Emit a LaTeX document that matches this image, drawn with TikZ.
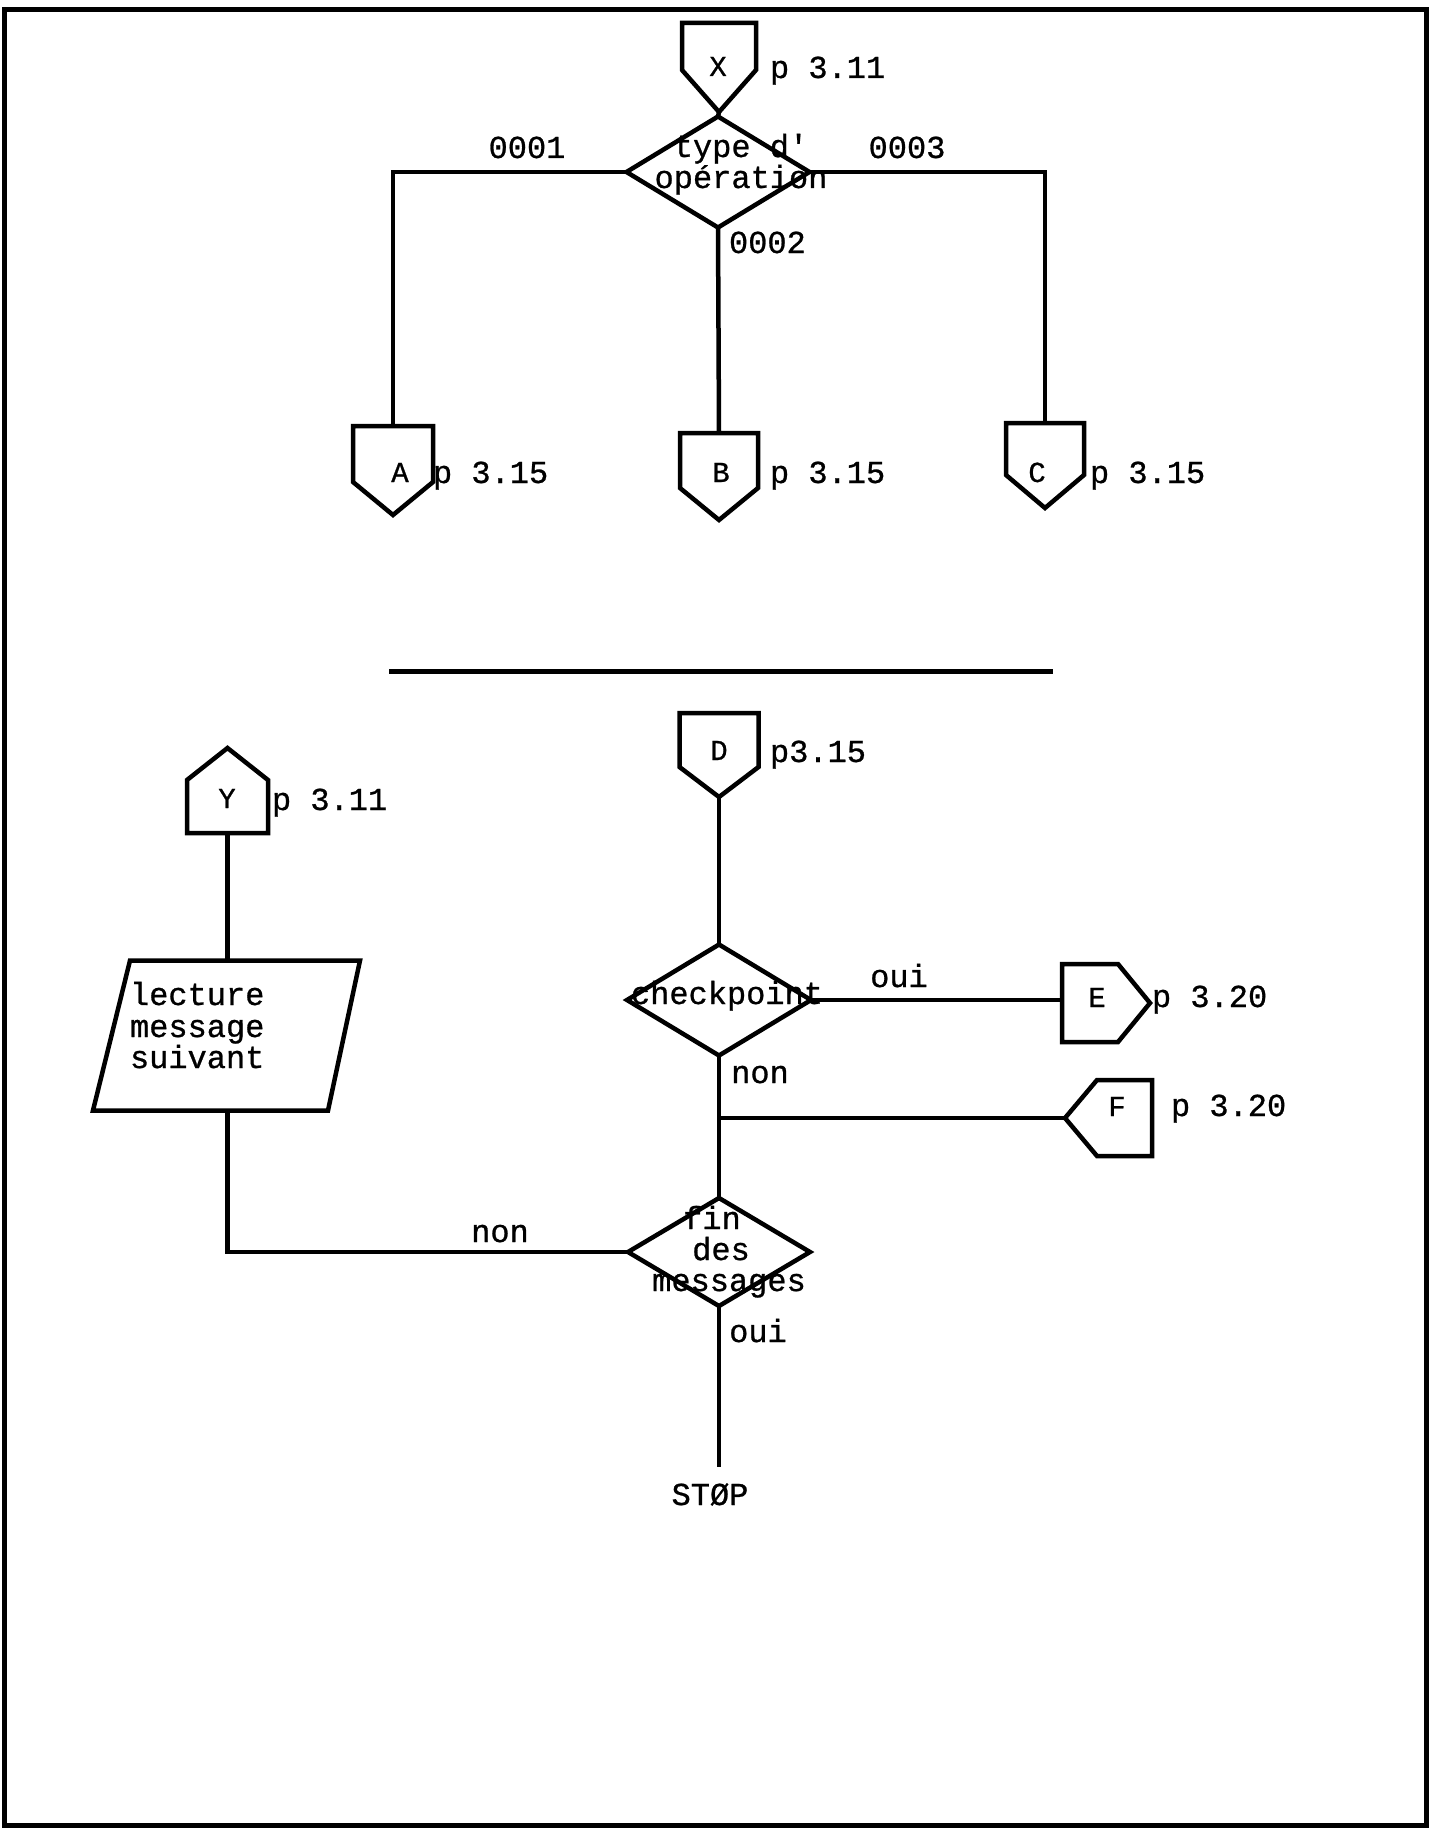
\documentclass[tikz,border=0pt]{standalone}
\usepackage{fontspec}
\setmonofont{Liberation Mono}[FakeBold=0.8]
\usetikzlibrary{shapes.geometric,calc}
\begin{document}
\begin{tikzpicture}[x=1pt,y=-1pt,
  ln/.style={line width=4.5pt, line join=miter, black},
  connbody/.style={inner sep=0pt, outer sep=0pt},
  dia/.style={diamond, draw, line width=4.5pt, inner sep=0pt, outer sep=0pt},
  txt/.style={font=\ttfamily\fontsize{32}{32}\selectfont, inner sep=0pt, outer sep=0pt, anchor=base},
  lbl/.style={txt, anchor=base west},
  conlet/.style={font=\ttfamily\fontsize{29}{29}\selectfont, inner sep=0pt, outer sep=0pt, anchor=base},
]
\useasboundingbox (0,0) rectangle (1430,1830);
\fill[white] (0,0) rectangle (1430,1830);
% page frame
\draw[line width=5pt] (4,10) rectangle (1426,1825);

% ===== top part =====
\node[connbody, minimum width=74pt, minimum height=47pt] (X) at (719,46.5) {};
\coordinate (Xtip) at ($(X.south)+(0,42)$);
\draw[ln] (X.north west) -- (X.north east) -- (X.south east) -- (Xtip) -- (X.south west) -- cycle;
\node[conlet] (Xl) at (718,76) {X};
\node[lbl] (Xp) at (770,78) {p 3.11};

\node[dia, minimum width=183pt, minimum height=111pt] (T) at (718,172) {};
\draw[ln] (Xtip) -- (T.north);
\node[txt] (T1) at (741,157) {type d'};
\node[txt] (T2) at (741,188) {opération};

% A
\node[connbody, minimum width=80pt, minimum height=56pt] (A) at (393,454) {};
\coordinate (Atip) at ($(A.south)+(0,33)$);
\draw[ln] (A.north west) -- (A.north east) -- (A.south east) -- (Atip) -- (A.south west) -- cycle;
\node[conlet] (Al) at (400,482) {A};
\node[lbl] (Ap) at (433,483) {p 3.15};
% B
\node[connbody, minimum width=78pt, minimum height=55pt] (B) at (719,460.5) {};
\coordinate (Btip) at ($(B.south)+(0,32)$);
\draw[ln] (B.north west) -- (B.north east) -- (B.south east) -- (Btip) -- (B.south west) -- cycle;
\node[conlet] (Bl) at (721,482) {B};
\node[lbl] (Bp) at (770,483) {p 3.15};
% C
\node[connbody, minimum width=78pt, minimum height=52pt] (C) at (1045,449) {};
\coordinate (Ctip) at ($(C.south)+(0,33)$);
\draw[ln] (C.north west) -- (C.north east) -- (C.south east) -- (Ctip) -- (C.south west) -- cycle;
\node[conlet] (Cl) at (1037,482) {C};
\node[lbl] (Cp) at (1090,483) {p 3.15};

\draw[ln] (T.west) -| (A.north);
\draw[ln] (T.east) -| (C.north);
\draw[ln] (T.south) -- (B.north);
\node[txt] (l1) at (527,158) {0001};
\node[txt] (l3) at (907,158) {0003};
\node[lbl] (l2) at (729,253) {0002};

% separator
\draw[line width=5pt] (389,671) -- (1053,671);

% ===== bottom part =====
% Y
\node[connbody, minimum width=81pt, minimum height=53pt] (Y) at (227.5,806.5) {};
\coordinate (Ytip) at ($(Y.north)+(0,-32)$);
\draw[ln] (Y.south west) -- (Y.north west) -- (Ytip) -- (Y.north east) -- (Y.south east) -- cycle;
\node[conlet] (Yl) at (227,808) {Y};
\node[lbl] (Yp) at (272,810) {p 3.11};

% lecture parallelogram
\node[connbody, minimum width=267pt, minimum height=150pt] (L) at (226.5,1035.5) {};
\draw[ln] ($(L.north west)+(37,0)$) -- (L.north east) -- ($(L.south east)+(-32,0)$) -- (L.south west) -- cycle;
\node[lbl] (L1) at (130,1005) {lecture};
\node[lbl] (L2) at (130,1037) {message};
\node[lbl] (L3) at (130,1068) {suivant};
\draw[ln] (Y.south) -- (Y.south |- L.north);

% D
\node[connbody, minimum width=79pt, minimum height=54pt] (D) at (719,740) {};
\coordinate (Dtip) at ($(D.south)+(0,30)$);
\draw[ln] (D.north west) -- (D.north east) -- (D.south east) -- (Dtip) -- (D.south west) -- cycle;
\node[conlet] (Dl) at (719,760) {D};
\node[lbl] (Dp) at (770,762) {p3.15};

% checkpoint
\node[dia, minimum width=184pt, minimum height=111pt] (CP) at (719,1000) {};
\node[txt] (CPt) at (727,1004) {checkpoint};
\draw[ln] (Dtip) -- (CP.north);

% E
\node[connbody, minimum width=56pt, minimum height=78pt] (E) at (1090,1003) {};
\coordinate (Etip) at ($(E.east)+(32,0)$);
\draw[ln] (E.north west) -- (E.north east) -- (Etip) -- (E.south east) -- (E.south west) -- cycle;
\node[conlet] (El) at (1097,1007) {E};
\node[lbl] (Ep) at (1152,1007) {p 3.20};
\draw[ln] (CP.east) -- (CP.east -| E.west);
\node[txt] (oui1) at (899,987) {oui};
\node[txt] (non1) at (760,1083) {non};

% F
\node[connbody, minimum width=55pt, minimum height=76pt] (F) at (1124.5,1118) {};
\coordinate (Ftip) at ($(F.west)+(-32,0)$);
\draw[ln] (Ftip) -- (F.north west) -- (F.north east) -- (F.south east) -- (F.south west) -- cycle;
\node[conlet] (Fl) at (1117,1116) {F};
\node[lbl] (Fp) at (1171,1116) {p 3.20};
\coordinate (J) at (719,1118);
\draw[ln] (J) -- (Ftip);

% fin des messages
\node[dia, minimum width=182pt, minimum height=108pt] (FIN) at (719,1252) {};
\node[txt] (F1) at (712,1229) {fin};
\node[txt] (F2) at (721,1260) {des};
\node[txt] (F3) at (729,1291) {messages};
\draw[ln] (CP.south) -- (FIN.north);
\draw[ln] (Y.south |- L.south) |- (FIN.west);
\node[txt] (non2) at (500,1242) {non};

\coordinate (Send) at (719,1467);
\draw[ln] (FIN.south) -- (Send);
\node[txt] (oui2) at (758,1342) {oui};
\node[txt] (STOP) at (710,1505) {STØP};
\end{tikzpicture}
\end{document}
